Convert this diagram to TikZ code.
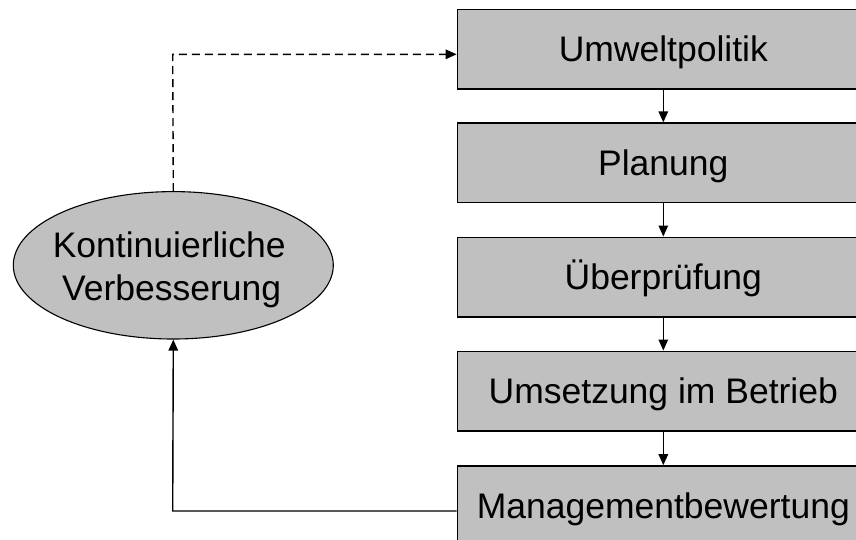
\documentclass[tikz,border=0pt]{standalone}
\usepackage{fontspec}
\setmainfont{Liberation Sans}
\usetikzlibrary{arrows.meta,shapes.geometric}
\definecolor{boxgray}{HTML}{C0C0C0}
\begin{document}
\begin{tikzpicture}[x=1pt,y=-1pt,
  every node/.style={font=\fontsize{35.5}{42.6}\selectfont},
  stepbox/.style={draw=black,fill=boxgray,line width=1.3pt,rectangle,
    minimum width=412pt,minimum height=79.7pt,inner sep=0pt,
    text height=25.4pt,text depth=0pt},
  loopell/.style={draw=black,fill=boxgray,line width=1.1pt,ellipse,
    minimum width=320pt,minimum height=147.4pt,inner sep=0pt},
  elltext/.style={anchor=base,inner sep=0pt},
  conn/.style={line width=1.4pt,-{Triangle[length=11pt,width=9.5pt]}},
  dconn/.style={conn,dash pattern=on 8pt off 5pt}]
\useasboundingbox (0,0) rectangle (856,539);
\clip (0,0) rectangle (856,539);
\node[stepbox] (b1) at (663.3,49.2) {Umweltpolitik};
\node[stepbox] (b2) at (663.3,162.9) {Planung};
\node[stepbox] (b3) at (663.3,277.0) {Überprüfung};
\node[stepbox] (b4) at (663.3,391.0) {Umsetzung im Betrieb};
\node[stepbox] (b5) at (663.3,505.7) {Managementbewertung};
\node[loopell] (ell) at (173.3,265.3) {};
\node[elltext] (ellA) at (169.2,257.3) {Kontinuierliche};
\node[elltext] (ellB) at (171.7,300.0) {Verbesserung};
\draw[conn] (b1) -- (b2);
\draw[conn] (b2) -- (b3);
\draw[conn] (b3) -- (b4);
\draw[conn] (b4) -- (b5);
\coordinate (dk) at (172.7,54.3);
\coordinate (sk) at (172.7,511);
\draw[dconn] (ell.north) -- (dk) -- (dk -| b1.west);
\draw[conn] (b5.west |- sk) -- (sk) -- (ell.south);
\end{tikzpicture}
\end{document}
